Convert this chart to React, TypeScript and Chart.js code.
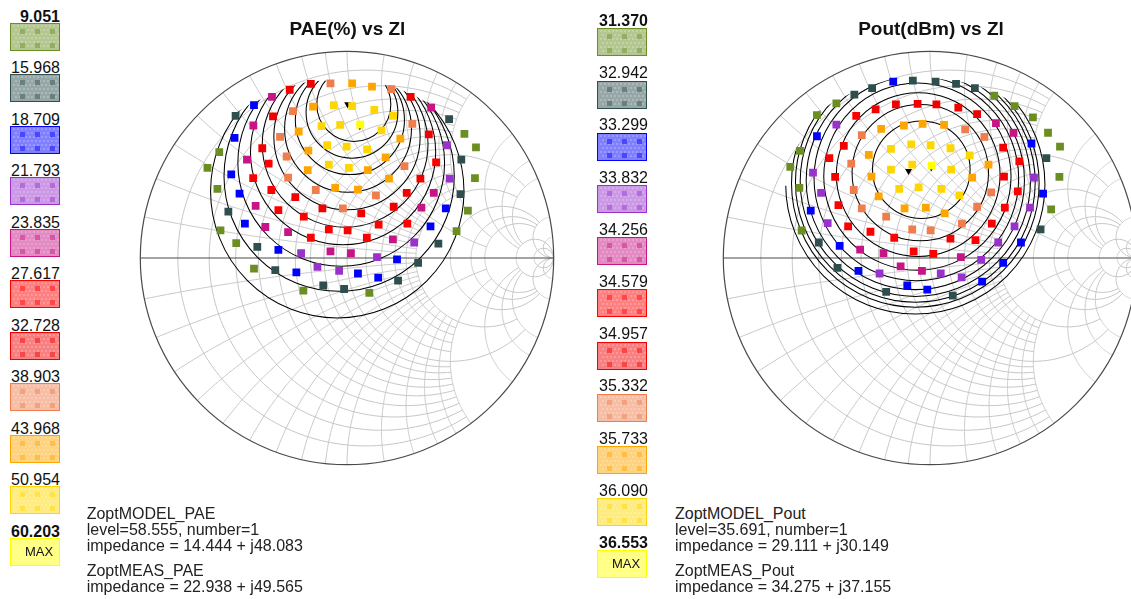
import React, { useEffect, useRef } from 'react';
import { Chart, registerables } from 'chart.js';

Chart.register(...registerables);

type Pt = [number, number];
type Circle = [number, number, number];

// Band colours shared by both load-pull plots (lowest level first)
const levelColors = ['#6B8E23', '#2F4F4F', '#0000FF', '#9932CC', '#C71585', '#FF0000', '#F20000', '#EF7D4D', '#FFA500', '#FFD700', '#FFFF00'];

// ---------------- PAE(%) vs Zl : points as reflection coefficient [Re, Im] ----------------
const paeLevels = ['9.051', '15.968', '18.709', '21.793', '23.835', '27.617', '32.728', '38.903', '43.968', '50.954', '60.203'];

const paeOlive: Pt[] = [[-0.618, 0.512], [-0.675, 0.436], [0.568, 0.601], [0.624, 0.535], [-0.627, 0.334], [0.619, 0.386], [0.585, 0.229], [-0.612, 0.134], [0.530, 0.130], [-0.536, 0.072], [-0.450, -0.051], [-0.211, -0.158], [0.108, -0.169]];
const paeSlate: Pt[] = [[-0.539, 0.688], [0.494, 0.672], [0.553, 0.476], [-0.574, 0.224], [0.549, 0.309], [-0.434, 0.054], [0.442, 0.070], [0.344, -0.024], [-0.347, -0.059], [0.247, -0.109], [-0.115, -0.133], [-0.014, -0.150]];
const paeBlue: Pt[] = [[-0.450, 0.740], [-0.544, 0.581], [-0.560, 0.405], [-0.520, 0.311], [0.478, 0.240], [-0.494, 0.166], [0.404, 0.153], [-0.332, 0.039], [0.242, -0.007], [-0.245, -0.070], [0.053, -0.075], [0.151, -0.095]];
const paePurple: Pt[] = [[0.483, 0.546], [0.497, 0.384], [-0.222, 0.023], [0.145, 0.004], [0.325, 0.075], [-0.143, -0.043], [-0.038, -0.062]];
const paeMagenta: Pt[] = [[-0.363, 0.779], [0.407, 0.727], [-0.453, 0.641], [-0.484, 0.476], [0.420, 0.315], [-0.442, 0.252], [0.360, 0.244], [-0.395, 0.150], [-0.285, 0.125], [-0.080, 0.032], [0.019, 0.023], [0.222, 0.090]];
const paeRedLow: Pt[] = [[0.431, 0.463], [-0.379, 0.457], [-0.454, 0.386], [-0.366, 0.329], [-0.332, 0.232], [-0.209, 0.200], [-0.175, 0.098], [-0.088, 0.138], [0.003, 0.134], [0.096, 0.098], [0.153, 0.161], [0.292, 0.166]];
const paeRedHigh: Pt[] = [[-0.277, 0.814], [-0.175, 0.842], [0.308, 0.779], [-0.358, 0.685], [0.396, 0.598], [-0.410, 0.531], [0.355, 0.384], [-0.250, 0.295], [0.289, 0.315], [-0.119, 0.240], [0.069, 0.216], [0.226, 0.248]];
const paeCoral: Pt[] = [[-0.080, 0.845], [0.214, 0.817], [-0.261, 0.711], [0.316, 0.649], [-0.324, 0.586], [-0.292, 0.491], [0.278, 0.444], [-0.285, 0.389], [-0.151, 0.329], [0.140, 0.303], [-0.020, 0.240]];
const paeOrange: Pt[] = [[0.025, 0.845], [0.121, 0.829], [-0.164, 0.732], [-0.234, 0.612], [0.258, 0.578], [-0.187, 0.520], [0.187, 0.487], [-0.190, 0.425], [0.101, 0.425], [0.203, 0.384], [-0.057, 0.339], [0.053, 0.331]];
const paeGold: Pt[] = [[-0.064, 0.740], [0.025, 0.735], [0.132, 0.716], [0.223, 0.688], [-0.123, 0.638], [-0.033, 0.644], [0.167, 0.617], [-0.096, 0.546], [-0.002, 0.539], [0.097, 0.526], [-0.088, 0.452], [0.009, 0.436]];
const paeMax: Pt[] = [[0.064, 0.645]];

// contour circles [centre Re, centre Im, radius], lowest level first
const paeContours: Circle[] = [[-0.047, 0.323, 0.613], [-0.038, 0.396, 0.557], [-0.028, 0.460, 0.500], [-0.019, 0.512, 0.448], [-0.009, 0.550, 0.401], [0.000, 0.587, 0.354], [0.005, 0.625, 0.307], [0.014, 0.668, 0.264], [0.024, 0.705, 0.222], [0.033, 0.743, 0.179]];
// contours are fully drawn below this Im level; above it they stop at the measured area
const paeOpenAbove = 0.345;

const paeModelZ: Pt = [14.444, 48.083];
const paeMeasZ: Pt = [22.938, 49.565];
const paeModelLevel = 58.555;

// ---------------- Pout(dBm) vs Zl ----------------
const poutLevels = ['31.370', '32.942', '33.299', '33.832', '34.256', '34.579', '34.957', '35.332', '35.733', '36.090', '36.553'];

const poutOlive: Pt[] = [[-0.453, 0.748], [-0.547, 0.691], [0.311, 0.785], [0.409, 0.735], [0.498, 0.680], [0.571, 0.606], [0.629, 0.539], [0.626, 0.392], [0.586, 0.235], [-0.629, 0.518], [-0.676, 0.441], [-0.632, 0.339], [-0.621, 0.133]];
const poutSlate: Pt[] = [[-0.083, 0.858], [0.027, 0.853], [0.126, 0.842], [0.217, 0.822], [-0.280, 0.822], [-0.366, 0.790], [0.563, 0.483], [-0.538, 0.075], [0.535, 0.138], [-0.448, -0.048], [-0.212, -0.164], [0.110, -0.182]];
const poutBlue: Pt[] = [[-0.178, 0.853], [0.491, 0.554], [-0.547, 0.589], [-0.577, 0.229], [-0.437, 0.059], [0.547, 0.311], [0.440, 0.075], [0.354, -0.024], [-0.346, -0.062], [0.252, -0.114], [-0.110, -0.133], [-0.013, -0.153]];
const poutPurple: Pt[] = [[-0.453, 0.645], [-0.566, 0.413], [-0.527, 0.315], [-0.495, 0.169], [0.503, 0.389], [0.484, 0.244], [0.409, 0.153], [0.330, 0.075], [0.248, -0.009], [-0.244, -0.075], [0.052, -0.075], [0.153, -0.094]];
const poutMagenta: Pt[] = [[0.319, 0.653], [0.404, 0.605], [-0.338, 0.040], [-0.225, 0.024], [0.149, 0.004], [-0.142, -0.040], [-0.039, -0.062]];
const poutRedLow: Pt[] = [[-0.357, 0.688], [-0.487, 0.483], [0.432, 0.468], [0.425, 0.322], [0.362, 0.244], [-0.443, 0.256], [-0.396, 0.153], [-0.288, 0.127], [-0.173, 0.098], [0.220, 0.087], [-0.079, 0.032], [0.016, 0.020]];
const poutRedHigh: Pt[] = [[-0.263, 0.719], [-0.165, 0.743], [-0.060, 0.746], [0.031, 0.743], [0.137, 0.727], [0.228, 0.696], [-0.417, 0.542], [0.354, 0.534], [0.358, 0.394], [-0.459, 0.392], [0.099, 0.094], [0.299, 0.166]];
const poutCoral: Pt[] = [[-0.330, 0.594], [0.170, 0.622], [0.263, 0.586], [-0.381, 0.457], [-0.369, 0.329], [0.296, 0.318], [-0.330, 0.240], [-0.212, 0.200], [0.228, 0.248], [-0.086, 0.138], [0.003, 0.134], [0.154, 0.166]];
const poutOrange: Pt[] = [[-0.236, 0.625], [-0.126, 0.641], [-0.036, 0.649], [0.068, 0.644], [-0.296, 0.499], [0.283, 0.452], [-0.283, 0.394], [0.204, 0.389], [-0.248, 0.298], [-0.123, 0.240], [-0.020, 0.244], [0.071, 0.216]];
const poutGold: Pt[] = [[-0.189, 0.528], [-0.091, 0.550], [0.003, 0.546], [0.099, 0.531], [0.192, 0.496], [-0.189, 0.428], [-0.086, 0.452], [0.102, 0.428], [-0.149, 0.334], [-0.055, 0.342], [0.055, 0.334], [0.142, 0.303]];
const poutMax: Pt[] = [[0.008, 0.447]];

const poutContours: Circle[] = [[-0.071, 0.356, 0.627], [-0.071, 0.361, 0.599], [-0.071, 0.366, 0.580], [-0.071, 0.371, 0.557], [-0.071, 0.375, 0.528], [-0.066, 0.385, 0.495], [-0.061, 0.394, 0.453], [-0.057, 0.403, 0.396], [-0.047, 0.413, 0.330], [-0.042, 0.427, 0.236]];
const poutOpenAbove = 0.35;

const poutModelZ: Pt = [29.111, 30.149];
const poutMeasZ: Pt = [34.275, 37.155];
const poutModelLevel = 35.691;

const Z0 = 50;

// Smith chart grid: normalised resistance circles / reactance arcs and how far each one runs
const resistanceTiers = [
  { values: [0.1, 0.2, 0.3, 0.4, 0.5, 0.6, 0.7, 0.8, 0.9, 1.2, 1.4, 1.6, 1.8], limit: 2 },
  { values: [1, 2], limit: 5 },
  { values: [3, 4, 5], limit: 10 },
  { values: [10, 20], limit: 1e6 },
];
const reactanceTiers = [
  { values: [0.1, 0.2, 0.3, 0.4, 0.5, 0.6, 0.7, 0.8, 0.9, 1.2, 1.4, 1.6, 1.8], limit: 2 },
  { values: [1, 2], limit: 5 },
  { values: [3, 4, 5], limit: 10 },
  { values: [10, 20], limit: 1e6 },
];

const SPAN = 220 / 212;
const FONT = "'Liberation Sans', Arial, Helvetica, sans-serif";

function gamma(r: number, x: number): Pt {
  const d = (r + 1) * (r + 1) + x * x;
  return [(r * r + x * x - 1) / d, (2 * x) / d];
}

// convex hull (monotone chain) of the measured points
function hull(points: Pt[]): Pt[] {
  const p = [...points].sort((a, b) => a[0] - b[0] || a[1] - b[1]);
  const cross = (o: Pt, a: Pt, b: Pt) => (a[0] - o[0]) * (b[1] - o[1]) - (a[1] - o[1]) * (b[0] - o[0]);
  const lower: Pt[] = [];
  for (const q of p) {
    while (lower.length >= 2 && cross(lower[lower.length - 2], lower[lower.length - 1], q) <= 0) lower.pop();
    lower.push(q);
  }
  const upper: Pt[] = [];
  for (let i = p.length - 1; i >= 0; i--) {
    const q = p[i];
    while (upper.length >= 2 && cross(upper[upper.length - 2], upper[upper.length - 1], q) <= 0) upper.pop();
    upper.push(q);
  }
  return lower.slice(0, -1).concat(upper.slice(0, -1));
}

function hexMix(hex: string, t: number) {
  const n = parseInt(hex.slice(1), 16);
  const c = [(n >> 16) & 255, (n >> 8) & 255, n & 255].map((v) => Math.round(v * t + 255 * (1 - t)));
  return `rgb(${c[0]},${c[1]},${c[2]})`;
}

function smithPlugin(contours: Circle[], points: Pt[], openAbove: number) {
  return {
    id: 'smithGrid',
    beforeDatasetsDraw(chart: any) {
      const ctx: CanvasRenderingContext2D = chart.ctx;
      const sx = chart.scales.x;
      const sy = chart.scales.y;
      const X = (v: number) => sx.getPixelForValue(v);
      const Y = (v: number) => sy.getPixelForValue(v);
      const unit = X(1) - X(0);
      const trace = (fn: (t: number) => Pt, a: number, b: number, n = 180) => {
        ctx.beginPath();
        for (let i = 0; i <= n; i++) {
          const [u, v] = fn(a + ((b - a) * i) / n);
          if (i === 0) ctx.moveTo(X(u), Y(v));
          else ctx.lineTo(X(u), Y(v));
        }
        ctx.stroke();
      };

      ctx.save();
      ctx.lineWidth = 1;
      ctx.strokeStyle = '#c6c6c6';
      for (const tier of resistanceTiers) {
        const t = Math.atan(tier.limit);
        for (const r of tier.values) trace((th) => gamma(r, Math.tan(th)), -t, t);
      }
      for (const tier of reactanceTiers) {
        const t = Math.atan(tier.limit);
        for (const x of tier.values) {
          trace((th) => gamma(Math.tan(th), x), 0, t);
          trace((th) => gamma(Math.tan(th), -x), 0, t);
        }
      }

      // real axis and outer rim
      ctx.strokeStyle = '#4a4a4a';
      ctx.lineWidth = 1.2;
      ctx.beginPath();
      ctx.moveTo(X(-1), Y(0));
      ctx.lineTo(X(1), Y(0));
      ctx.stroke();
      ctx.beginPath();
      ctx.arc(X(0), Y(0), unit, 0, Math.PI * 2);
      ctx.stroke();

      // contours: kept inside the measured area at the top, open below it
      const h = hull(points);
      const cx = h.reduce((s, q) => s + q[0], 0) / h.length;
      const cy = h.reduce((s, q) => s + q[1], 0) / h.length;
      let scr = h.map(([u, v]) => {
        const d = Math.hypot(u - cx, v - cy) || 1;
        const k = 1 + 0.015 / d;
        return [X(cx + (u - cx) * k), Y(cy + (v - cy) * k)] as Pt;
      });
      let area = 0;
      for (let i = 0; i < scr.length; i++) {
        const a = scr[i];
        const b = scr[(i + 1) % scr.length];
        area += a[0] * b[1] - b[0] * a[1];
      }
      if (area < 0) scr = scr.reverse();
      ctx.save();
      ctx.beginPath();
      scr.forEach(([a, b], i) => (i === 0 ? ctx.moveTo(a, b) : ctx.lineTo(a, b)));
      ctx.closePath();
      ctx.rect(X(-1.1), Y(openAbove), X(1.1) - X(-1.1), Y(-1.1) - Y(openAbove));
      ctx.clip();
      ctx.strokeStyle = '#000';
      ctx.lineWidth = 1.05;
      for (const [cu, cv, rad] of contours) {
        ctx.beginPath();
        ctx.arc(X(cu), Y(cv), rad * unit, 0, Math.PI * 2);
        ctx.stroke();
      }
      ctx.restore();
      ctx.restore();
    },
  };
}

function LoadPullChart(props: { left: number; top: number; series: Pt[][]; contours: Circle[]; openAbove: number; markers: Pt[] }) {
  const ref = useRef<HTMLCanvasElement>(null);
  useEffect(() => {
    const datasets: any[] = props.series.map((pts, i) => ({
      data: pts.map(([x, y]) => ({ x, y })),
      pointStyle: 'rect',
      pointRadius: 5.5,
      pointBackgroundColor: levelColors[i],
      pointBorderColor: levelColors[i],
      pointBorderWidth: 0,
      backgroundColor: levelColors[i],
      showLine: false,
    }));
    datasets.push({
      data: props.markers.map(([r, x]) => {
        const [u, v] = gamma(r / Z0, x / Z0);
        return { x: u, y: v };
      }),
      pointStyle: 'triangle',
      pointRotation: 180,
      pointRadius: 4,
      pointBackgroundColor: '#000',
      pointBorderColor: '#000',
      pointBorderWidth: 0,
      showLine: false,
    });
    const all = props.series.flat();
    const chart = new Chart(ref.current!, {
      type: 'scatter',
      data: { datasets },
      options: {
        responsive: false,
        animation: false,
        events: [],
        layout: { padding: 0 },
        plugins: { legend: { display: false }, tooltip: { enabled: false }, title: { display: false } },
        scales: {
          x: { type: 'linear', min: -SPAN, max: SPAN, display: false },
          y: { type: 'linear', min: -SPAN, max: SPAN, display: false },
        },
      },
      plugins: [smithPlugin(props.contours, all, props.openAbove)],
    } as any);
    return () => chart.destroy();
  }, []);
  return <canvas ref={ref} width={440} height={440} style={{ position: 'absolute', left: props.left, top: props.top, display: 'block' }} />;
}

function Swatch(props: { color: string; x: number; y: number; max?: boolean }) {
  const ref = useRef<HTMLCanvasElement>(null);
  const w = 50;
  const h = 28;
  useEffect(() => {
    const ctx = ref.current!.getContext('2d')!;
    ctx.fillStyle = hexMix(props.color, 0.5);
    ctx.fillRect(0, 0, w, h);
    // faint hatch texture
    ctx.fillStyle = hexMix(props.color, 0.4);
    for (let j = 2; j < h - 2; j += 4) for (let i = 2 + ((j / 2) % 4); i < w - 2; i += 4) ctx.fillRect(i, j, 2, 2);
    if (!props.max) {
      ctx.fillStyle = hexMix(props.color, 0.72);
      for (const fx of [0.24, 0.54, 0.84]) {
        for (const fy of [0.3, 0.77]) {
          const cx = Math.round(fx * w);
          const cy = Math.round(fy * h);
          ctx.fillRect(cx - 2, cy - 2, 5, 5);
        }
      }
    }
    ctx.strokeStyle = props.color;
    ctx.lineWidth = 1;
    ctx.strokeRect(0.5, 0.5, w - 1, h - 1);
  }, [props.color]);
  return (
    <div style={{ position: 'absolute', left: props.x, top: props.y, width: w, height: h }}>
      <canvas ref={ref} width={w} height={h} style={{ display: 'block' }} />
      {props.max && (
        <div style={{ position: 'absolute', left: 4, top: 0, width: w, height: h, lineHeight: h + 'px', textAlign: 'center', fontFamily: FONT, fontSize: 13, color: '#111' }}>MAX</div>
      )}
    </div>
  );
}

function Legend(props: { labels: string[]; textRight: number; swatchX: number; firstCap: number; step: number; gap: number }) {
  return (
    <>
      {props.labels.map((lab, i) => {
        const cap = props.firstCap + props.step * i;
        const last = i === props.labels.length - 1;
        return (
          <React.Fragment key={lab}>
            <div
              style={{
                position: 'absolute', left: props.textRight - 80, width: 80, top: cap - 2.1, textAlign: 'right',
                fontFamily: FONT, fontSize: 16, lineHeight: '16px', color: '#111', fontWeight: i === 0 || last ? 'bold' : 'normal',
              }}
            >
              {lab}
            </div>
            <Swatch color={levelColors[i]} x={props.swatchX} y={Math.round(cap + props.gap)} max={last} />
          </React.Fragment>
        );
      })}
    </>
  );
}

function InfoBlock(props: { x: number; name: string; level: number; model: Pt; meas: Pt }) {
  const lines: [string, number][] = [
    ['ZoptMODEL_' + props.name, 508.3],
    [`level=${props.level.toFixed(3)}, number=1`, 524.5],
    [`impedance = ${props.model[0].toFixed(3)} + j${props.model[1].toFixed(3)}`, 540.3],
    ['ZoptMEAS_' + props.name, 565],
    [`impedance = ${props.meas[0].toFixed(3)} + j${props.meas[1].toFixed(3)}`, 580.6],
  ];
  return (
    <>
      {lines.map(([t, cap]) => (
        <div key={t} style={{ position: 'absolute', left: props.x, top: cap - 2.1, whiteSpace: 'nowrap', fontFamily: FONT, fontSize: 16, lineHeight: '16px', color: '#222' }}>
          {t}
        </div>
      ))}
    </>
  );
}

function Title(props: { cx: number; text: string }) {
  return (
    <div style={{ position: 'absolute', left: props.cx - 150, width: 300, top: 19, textAlign: 'center', fontFamily: FONT, fontWeight: 'bold', fontSize: 19, lineHeight: '19px', color: '#111' }}>
      {props.text}
    </div>
  );
}

export default function App() {
  const paeSeries = [paeOlive, paeSlate, paeBlue, paePurple, paeMagenta, paeRedLow, paeRedHigh, paeCoral, paeOrange, paeGold, paeMax];
  const poutSeries = [poutOlive, poutSlate, poutBlue, poutPurple, poutMagenta, poutRedLow, poutRedHigh, poutCoral, poutOrange, poutGold, poutMax];
  return (
    <div style={{ position: 'absolute', left: 0, top: 0, width: 1131, height: 599, overflow: 'hidden', background: '#fff' }}>
      <LoadPullChart left={127} top={38} series={paeSeries} contours={paeContours} openAbove={paeOpenAbove} markers={[paeModelZ, paeMeasZ]} />
      <LoadPullChart left={710} top={38} series={poutSeries} contours={poutContours} openAbove={poutOpenAbove} markers={[poutModelZ, poutMeasZ]} />
      <Title cx={347.5} text="PAE(%) vs Zl" />
      <Title cx={931} text="Pout(dBm) vs Zl" />
      <Legend labels={paeLevels} textRight={60} swatchX={10} firstCap={10.8} step={51.5} gap={12} />
      <Legend labels={poutLevels} textRight={648} swatchX={597} firstCap={15} step={52.2} gap={13.3} />
      <InfoBlock x={86.7} name="PAE" level={paeModelLevel} model={paeModelZ} meas={paeMeasZ} />
      <InfoBlock x={675} name="Pout" level={poutModelLevel} model={poutModelZ} meas={poutMeasZ} />
    </div>
  );
}
